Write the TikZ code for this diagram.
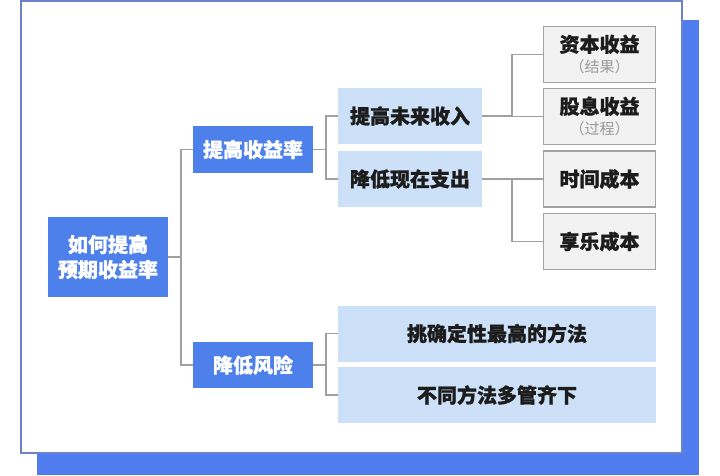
\documentclass[tikz,border=0pt]{standalone}
\usepackage{fontspec}
\setmainfont{Noto Sans CJK SC}[BoldFeatures={FakeBold=1}]
\usetikzlibrary{positioning}
\definecolor{cardline}{HTML}{6C82C9}
\definecolor{cardshadow}{HTML}{4F7DF0}
\definecolor{deepblue}{HTML}{4D80EA}
\definecolor{paleblue}{HTML}{CCE0F8}
\definecolor{boxgray}{HTML}{F2F2F2}
\definecolor{edgegray}{HTML}{A2A2A2}
\definecolor{linkgray}{HTML}{A0A0A0}
\definecolor{inkblack}{HTML}{1C1C1C}
\definecolor{notegray}{HTML}{9A9A9A}
\tikzset{
  % testo comune
  txt/.style={font=\fontsize{20}{25}\selectfont\bfseries, align=center, inner sep=0pt},
  % nodo principale (blu pieno)
  mainbox/.style={txt, fill=deepblue, text=white, minimum width=120pt},
  % nodo secondario (azzurro)
  subbox/.style={txt, fill=paleblue, text=inkblack, minimum height=56pt},
  % foglia (grigia con bordo)
  leafbox/.style={txt, fill=boxgray, draw=edgegray, line width=1.3pt, text=inkblack,
    minimum width=112pt, minimum height=56pt},
  % collegamenti
  link/.style={draw=linkgray, line width=1.3pt},
}
% nota tra parentesi
\newcommand{\paren}[1]{{\fontsize{15}{17}\selectfont\mdseries\color{notegray}#1}}

\begin{document}
\begin{tikzpicture}[x=1pt, y=-1pt]
  \useasboundingbox (0,0) rectangle (720,475);
  % scheda con ombra
  \fill[cardshadow] (37,20) rectangle (699,475);
  \draw[cardline, line width=1.6pt, fill=white] (21,1) rectangle (682,453);

  % nodi
  \node[mainbox, minimum height=80pt] (root) at (108,257) {如何提高\\预期收益率};
  \node[mainbox, minimum height=47pt] (yield) at (253,149.5) {提高收益率};
  \node[mainbox, minimum height=46pt] (risk) at (253,365) {降低风险};
  \node[subbox, minimum width=144pt] (income) at (410,116) {提高未来收入};
  \node[subbox, minimum width=144pt] (spend) at (410,179) {降低现在支出};
  \node[leafbox] (capital) at (599.5,54.5) {资本收益\\[-4pt]\paren{（结果）}};
  \node[leafbox] (divid) at (599.5,116.5) {股息收益\\[-4pt]\paren{（过程）}};
  \node[leafbox] (timec) at (599.5,179) {时间成本};
  \node[leafbox] (func) at (599.5,241.5) {享乐成本};
  \node[subbox, minimum width=318pt] (surest) at (497,333.5) {挑确定性最高的方法};
  \node[subbox, minimum width=318pt] (mixed) at (497,395) {不同方法多管齐下};

  % linee di raccordo
  \coordinate (busA) at (181,0);
  \coordinate (busB) at (326,0);
  \coordinate (busC) at (512,0);
  \draw[link] (root.east) -- (root.east -| busA) |- (yield.west);
  \draw[link] (root.east -| busA) |- (risk.west);
  \draw[link] (yield.east) -- (yield.east -| busB) |- (income.west);
  \draw[link] (yield.east -| busB) |- (spend.west);
  \draw[link] (risk.east) -- (risk.east -| busB) |- (surest.west);
  \draw[link] (risk.east -| busB) |- (mixed.west);
  \draw[link] (income.east) -- (income.east -| busC) |- (capital.west);
  \draw[link] (income.east -| busC) |- (divid.west);
  \draw[link] (spend.east) -- (spend.east -| busC) |- (timec.west);
  \draw[link] (spend.east -| busC) |- (func.west);
\end{tikzpicture}
\end{document}
